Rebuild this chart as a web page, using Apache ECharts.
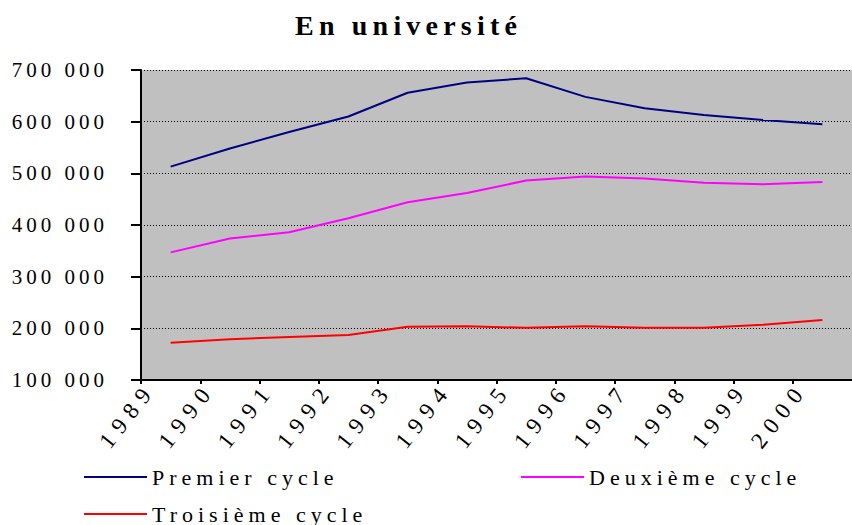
<!DOCTYPE html>
<html>
<head>
<meta charset="utf-8">
<script src="https://cdn.jsdelivr.net/npm/echarts@6/dist/echarts.min.js"></script>
<style>
  html, body { margin: 0; padding: 0; background: #fff; }
  #chart { width: 852px; height: 525px; }
  /* espacement des lettres comme dans l'original */
  #chart text { letter-spacing: 4px; }
  #chart text[style*="22px"] { letter-spacing: 5px; }
  #chart text[style*="23px"] { letter-spacing: 7.5px; }
  #chart text[style*="bold"] { letter-spacing: 5.2px; }
</style>
</head>
<body>
<div id="chart"></div>
<script>
// années (axe x)
const years = [1989, 1990, 1991, 1992, 1993, 1994, 1995, 1996, 1997, 1998, 1999, 2000];

// effectifs par cycle
const premierCycle = [513000, 548000, 580000, 610000, 656000, 676000, 684000, 648000, 626000, 613000, 603000, 595000];
const deuxiemeCycle = [347000, 374000, 386000, 413000, 444000, 462000, 486000, 494000, 490000, 482000, 479000, 483000];
const troisiemeCycle = [172000, 179000, 183000, 187000, 203000, 204000, 201000, 204000, 201000, 201000, 207000, 216000];

// graduations de l'axe y
const yMin = 100000;
const yMax = 700000;
const yStep = 100000;

const serif = "Liberation Serif, Times New Roman, serif";

// points au milieu de chaque intervalle d'année
const toPoints = (values) => years.map((y, i) => [y + 0.5, values[i]]);

const chart = echarts.init(document.getElementById("chart"), null, { renderer: "svg" });

const option = {
  animation: false,
  title: {
    text: "En université",
    left: 295,
    top: 11,
    padding: 0,
    textStyle: {
      fontFamily: serif,
      fontWeight: "bold",
      fontSize: 28,
      color: "#000",
    },
  },
  legend: [
    { data: ["Premier cycle"], left: 84, top: 466 },
    { data: ["Deuxième cycle"], left: 521, top: 466 },
    { data: ["Troisième cycle"], left: 84, top: 503 },
  ].map((l) => ({
    ...l,
    padding: 0,
    icon: "rect",
    itemWidth: 63,
    itemHeight: 2,
    textStyle: { fontFamily: serif, fontSize: 22, color: "#000" },
  })),
  grid: {
    left: 141,
    top: 70,
    width: 714,
    height: 310,
    show: true,
    backgroundColor: "#C0C0C0",
    borderWidth: 0,
  },
  xAxis: {
    type: "value",
    min: years[0],
    max: years[years.length - 1] + 1,
    interval: 1,
    splitLine: { show: false },
    axisLine: { lineStyle: { color: "#000", width: 2 } },
    axisTick: { length: 4, lineStyle: { color: "#000", width: 2 } },
    axisLabel: {
      rotate: 52,
      margin: 18,
      padding: [0, -16, 0, 0],
      color: "#000",
      fontFamily: serif,
      fontSize: 23,
      showMaxLabel: false,
      formatter: (v) => String(v),
    },
  },
  yAxis: {
    type: "value",
    min: yMin,
    max: yMax,
    interval: yStep,
    axisLine: { show: true, lineStyle: { color: "#000", width: 2 } },
    axisTick: { show: true, length: 10, lineStyle: { color: "#000", width: 2 } },
    splitLine: { lineStyle: { color: "#000", width: 1, type: [1, 2] } },
    axisLabel: {
      margin: 33,
      color: "#000",
      fontFamily: serif,
      fontSize: 21,
      formatter: (v) => Math.round(v / 1000) + " 000",
    },
  },
  series: [
    { name: "Premier cycle", color: "#000080", data: toPoints(premierCycle) },
    { name: "Deuxième cycle", color: "#FF00FF", data: toPoints(deuxiemeCycle) },
    { name: "Troisième cycle", color: "#FF0000", data: toPoints(troisiemeCycle) },
  ].map((s) => ({
    ...s,
    type: "line",
    showSymbol: false,
    symbol: "none",
    lineStyle: { width: 2, color: s.color },
    itemStyle: { color: s.color },
  })),
};

chart.setOption(option);
</script>
</body>
</html>
